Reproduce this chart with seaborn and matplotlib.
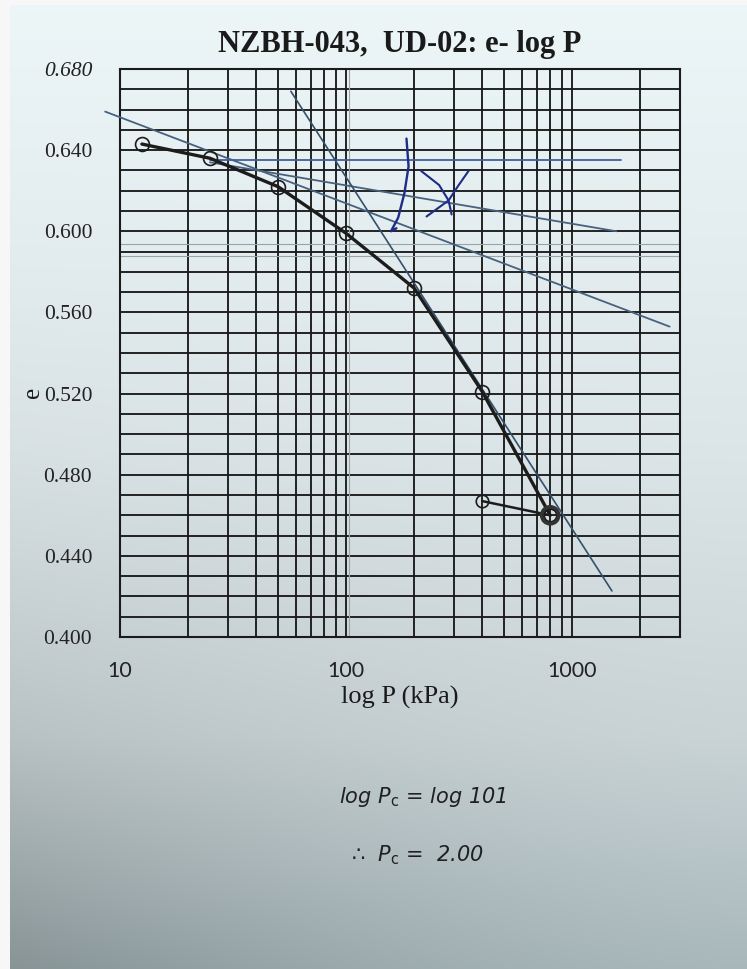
import numpy as np
import pandas as pd
import matplotlib
matplotlib.use("Agg")
import matplotlib.pyplot as plt
from matplotlib.ticker import FixedLocator, NullFormatter, FixedFormatter
import seaborn as sns

# ---------------- data ----------------
pressure = [12.5, 25, 50, 100, 200, 400, 800]            # kPa, loading
void_ratio = [0.643, 0.636, 0.622, 0.599, 0.572, 0.521, 0.460]
unload_pressure = [800, 400]
unload_void = [0.460, 0.467]

# hand-drawn construction lines (Casagrande)
tangent_p = [8.6, 2700]
tangent_e = [0.659, 0.553]
horizontal_p = [25, 1650]
horizontal_e = [0.635, 0.635]
bisector_p = [25, 1570]
bisector_e = [0.634, 0.600]
virgin_p = [57, 1500]
virgin_e = [0.669, 0.4227]

# compass arc and cross marks (blue pen)
arc_p = [185, 189, 181, 170, 158, 167]
arc_e = [0.6457, 0.632, 0.6186, 0.6067, 0.600, 0.6015]
crossA_p = [215, 258, 284, 293]
crossA_e = [0.6297, 0.6228, 0.6152, 0.6083]
crossB_p = [348, 315, 284, 227]
crossB_e = [0.6297, 0.6228, 0.6152, 0.6073]

# axis ticks
y_major = [0.400, 0.440, 0.480, 0.520, 0.560, 0.600, 0.640, 0.680]
y_labels = ["0.400", "0.440", "0.480", "0.520", "0.560", "0.600", "0.640", "0.680"]
x_major = [10, 100, 1000]
x_labels = ["10", "100", "1000"]
x_minor = [20, 30, 40, 50, 60, 70, 80, 90, 200, 300, 400, 500, 600, 700, 800, 900, 2000]

title_text = "NZBH-043,  UD-02: e- log P"
note1 = r"log P$_\mathrm{c}$ = log 101"
note2 = r"∴  P$_\mathrm{c}$ =  2.00"

# ---------------- figure ----------------
sns.set_theme(style="white")
plt.rcParams["font.family"] = ["Liberation Serif", "DejaVu Sans"]

W, H = 747, 969
fig = plt.figure(figsize=(W / 100, H / 100), dpi=100)

# photographed-paper background
bg = fig.add_axes([0, 0, 1, 1], zorder=-10)
yy = np.linspace(0, 1, H)[:, None]
xx = np.linspace(0, 1, W)[None, :]
stops = [0.0, 0.45, 0.76, 1.0]
cols = np.array([[0.93, 0.965, 0.97], [0.865, 0.90, 0.91],
                 [0.79, 0.83, 0.84], [0.66, 0.72, 0.73]])
img = np.zeros((H, W, 3))
for c in range(3):
    img[:, :, c] = np.interp(yy[:, 0], stops, cols[:, c])[:, None] * np.ones((1, W))
img *= (1 - 0.2 * (1 - xx) ** 1.5 * yy ** 3)[:, :, None]
img[:, :10, :] = 0.97
img[:5, :, :] = 0.97
bg.imshow(np.clip(img, 0, 1), aspect="auto", extent=[0, 1, 0, 1])
bg.axis("off")

ax = fig.add_axes([120 / W, 1 - 637 / H, 560 / W, (637 - 69) / H])
ax.patch.set_alpha(0)
ax.set_xscale("log")
ax.set_xlim(10, 3000)
ax.set_ylim(0.40, 0.68)

grid_col = "#1b1b1b"
ax.xaxis.set_major_locator(FixedLocator(x_major))
ax.xaxis.set_major_formatter(FixedFormatter(x_labels))
ax.xaxis.set_minor_locator(FixedLocator(x_minor))
ax.xaxis.set_minor_formatter(NullFormatter())
ax.yaxis.set_major_locator(FixedLocator(y_major))
ax.yaxis.set_major_formatter(FixedFormatter(y_labels))
ax.yaxis.set_minor_locator(FixedLocator(list(np.round(np.arange(0.41, 0.68, 0.01), 3))))
ax.grid(True, which="both", color=grid_col, lw=1.35, zorder=1)
ax.set_axisbelow(True)
for s in ax.spines.values():
    s.set_color(grid_col)
    s.set_linewidth(1.5)
ax.tick_params(which="both", length=0)
ax.tick_params(axis="y", pad=20, labelsize=15.5, labelcolor="#222222")
ax.tick_params(axis="x", pad=17, labelsize=15.5, labelcolor="#222222")
for t in ax.get_xticklabels():
    t.set_fontfamily(["Lato", "DejaVu Sans"])
ax.get_yticklabels()[-1].set_style("italic")

# faint printing lines
for v in (0.5938, 0.5878):
    ax.axhline(v, color="#9aa5a8", lw=0.8, zorder=1)
ax.axvline(103, color="#9aa5a8", lw=0.8, zorder=1)

# construction lines
line_col = "#46627e"
sns.lineplot(x=tangent_p, y=tangent_e, ax=ax, color=line_col, lw=1.3, sort=False, clip_on=False, zorder=3)
sns.lineplot(x=horizontal_p, y=horizontal_e, ax=ax, color="#3e5f9a", lw=1.3, sort=False, zorder=3)
sns.lineplot(x=bisector_p, y=bisector_e, ax=ax, color=line_col, lw=1.3, sort=False, zorder=3)
sns.lineplot(x=virgin_p, y=virgin_e, ax=ax, color="#34506e", lw=1.2, sort=False, zorder=3)

pen = "#1f2c86"
sns.lineplot(x=arc_p, y=arc_e, ax=ax, color=pen, lw=1.7, sort=False, zorder=4)
sns.lineplot(x=crossA_p, y=crossA_e, ax=ax, color=pen, lw=1.5, sort=False, zorder=4)
sns.lineplot(x=crossB_p, y=crossB_e, ax=ax, color=pen, lw=1.5, sort=False, zorder=4)

# e - log P curve
curve_col = "#1c1c1c"
df_load = pd.DataFrame({"P": pressure, "e": void_ratio})
sns.lineplot(data=df_load, x="P", y="e", ax=ax, color=curve_col, lw=2.4,
             marker="o", markersize=10, markerfacecolor="none",
             markeredgecolor=curve_col, markeredgewidth=1.2, zorder=5)
df_unload = pd.DataFrame({"P": unload_pressure, "e": unload_void})
sns.lineplot(data=df_unload, x="P", y="e", ax=ax, sort=False, color=curve_col, lw=1.8,
             marker="o", markersize=9, markerfacecolor="none",
             markeredgecolor=curve_col, markeredgewidth=1.2, zorder=5)
sns.scatterplot(x=[pressure[-1]], y=[void_ratio[-1]], ax=ax, s=150, facecolor="none",
                edgecolor="#333333", linewidth=2.6, zorder=6)

ax.set_title(title_text, fontsize=22, fontweight="bold", color="#1a1a1a", pad=12)
ax.set_xlabel("log P (kPa)", fontsize=19, color="#1a1a1a", labelpad=4)
ax.set_ylabel("e", fontsize=18, color="#1a1a1a")
ax.yaxis.set_label_coords(-0.135, 0.43)

# handwritten notes
fig.text(423 / W, 1 - 797 / H, note1, fontsize=15, color="#202020", ha="center", va="center",
         family=["DejaVu Sans"], style="italic")
fig.text(417 / W, 1 - 855 / H, note2, fontsize=15, color="#202020", ha="center", va="center",
         family=["DejaVu Sans"], style="italic")

fig.savefig("out.png", dpi=100)
